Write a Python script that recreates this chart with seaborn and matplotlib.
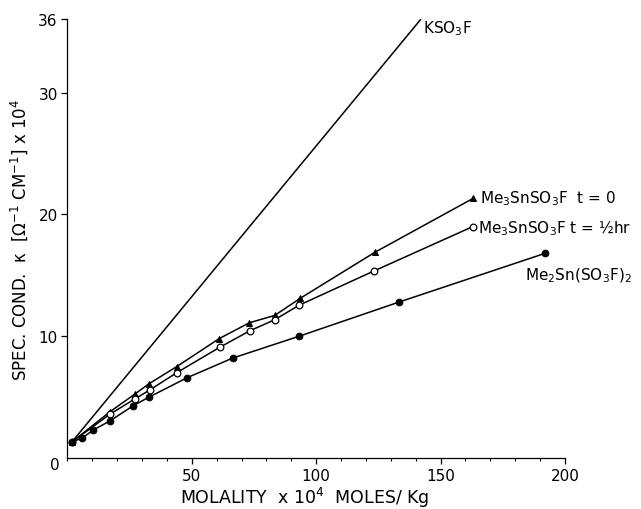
import matplotlib
matplotlib.use("Agg")  # no display

import matplotlib.pyplot as plt
from matplotlib.ticker import MultipleLocator
import seaborn as sns

# Molality x 10^4 (moles/kg) vs specific conductance x 10^4
KSO3F_X = [1.7, 72, 142]
KSO3F_Y = [1.3, 18.7, 36.0]

T0_X = [1.7, 17.1, 27.1, 32.8, 43.9, 61.0, 73.1, 83.3, 93.5, 123.7, 163.0]
T0_Y = [1.3, 3.8, 5.25, 6.1, 7.5, 9.8, 11.1, 11.7, 13.1, 16.9, 21.3]

THALF_X = [1.7, 17.1, 27.1, 33.2, 43.9, 61.3, 73.4, 83.3, 93.2, 123.2, 163.0]
THALF_Y = [1.3, 3.6, 4.85, 5.6, 7.0, 9.1, 10.45, 11.35, 12.55, 15.35, 19.0]

ME2_X = [1.7, 6.0, 10.4, 17.1, 26.5, 32.8, 48.2, 66.4, 93.2, 133.3, 192.0]
ME2_Y = [1.3, 1.65, 2.3, 3.05, 4.3, 5.0, 6.6, 8.2, 10.0, 12.8, 16.8]

Y_TICKS = [10, 20, 30, 36]

sns.set_style("ticks")
plt.rcParams["font.family"] = ["DejaVu Sans"]
plt.rcParams["mathtext.default"] = "regular"
for key in ["text.color", "axes.labelcolor", "xtick.color", "ytick.color",
            "axes.edgecolor"]:
    plt.rcParams[key] = "black"

fig = plt.figure(figsize=(6.41, 5.10), dpi=100)
ax = fig.add_axes([0.1053, 0.1, 0.7761, 0.86])

line_kw = dict(color="black", linewidth=1.1, sort=False, ax=ax)
sns.lineplot(x=KSO3F_X, y=KSO3F_Y, **line_kw)
sns.lineplot(x=T0_X, y=T0_Y, marker="^", markersize=4.5,
             markerfacecolor="black", markeredgecolor="black", **line_kw)
sns.lineplot(x=THALF_X, y=THALF_Y, marker="o", markersize=4.8,
             markerfacecolor="white", markeredgecolor="black",
             markeredgewidth=0.9, **line_kw)
sns.lineplot(x=ME2_X, y=ME2_Y, marker="o", markersize=4.8,
             markerfacecolor="black", markeredgecolor="black", **line_kw)

ax.set_xlim(0, 200)
ax.set_ylim(0, 36)
ax.xaxis.set_minor_locator(MultipleLocator(10))
ax.set_xticks([50, 100, 150, 200])
ax.set_yticks(Y_TICKS)
ax.tick_params(axis="both", which="major", direction="out", length=4,
               width=0.9, labelsize=11, pad=3)
ax.tick_params(axis="x", which="minor", direction="out", length=2.5, width=0.8)
for side in ["top", "right"]:
    ax.spines[side].set_visible(False)
for side in ["left", "bottom"]:
    ax.spines[side].set_linewidth(0.9)

# origin label sits below-left of the corner
ax.text(-5, -0.5, "0", ha="center", va="center", fontsize=11, clip_on=False)

ax.set_xlabel(r"MOLALITY  x 10$^4$  MOLES/ Kg", fontsize=12.5)
ax.set_ylabel(r"SPEC. COND.  κ  [Ω$^{-1}$ CM$^{-1}$] x 10$^4$", fontsize=12)
ax.xaxis.set_label_coords(0.477, -0.062)
ax.yaxis.set_label_coords(-0.075, 0.5)

lab_kw = dict(fontsize=11, ha="left", va="center")
ax.text(143, 35.3, r"KSO$_3$F", **lab_kw)
ax.text(166, 21.4, r"Me$_3$SnSO$_3$F  t = 0", **lab_kw)
ax.text(165.2, 18.9, r"Me$_3$SnSO$_3$F t = ½hr", **lab_kw)
ax.text(184, 15.0, r"Me$_2$Sn(SO$_3$F)$_2$", **lab_kw)

fig.savefig("out.png", dpi=100)
plt.close(fig)
